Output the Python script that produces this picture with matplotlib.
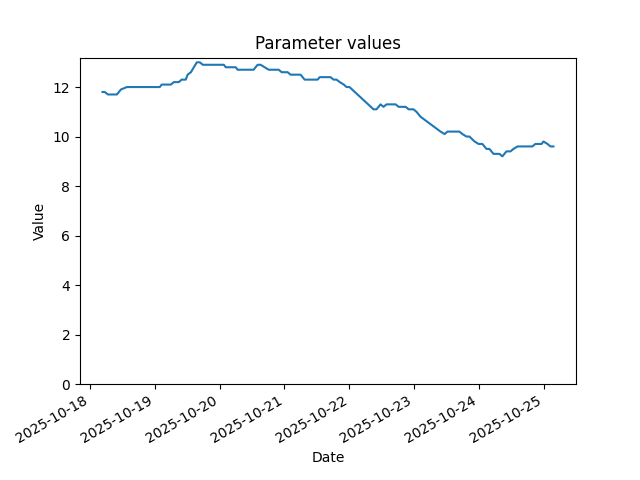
import matplotlib
matplotlib.use("Agg")
import matplotlib.pyplot as plt
import numpy as np

# hours since 2025-10-18 00:00
hours = [4.7, 5.5, 6.7, 10.0, 11.5, 13.7, 25.9, 26.6, 30.0, 31.1, 32.9, 34.0, 35.5,
         36.2, 37.4, 38.5, 39.6, 40.7, 41.8, 49.6, 50.3, 54.0, 54.7, 60.6, 62.1,
         63.2, 64.7, 66.2, 69.9, 71.0, 73.2, 74.3, 78.0, 79.5, 84.3, 85.1, 89.1,
         90.2, 91.3, 92.5, 94.0, 95.0, 96.1, 105.0, 106.1, 107.6, 108.7, 109.8,
         113.2, 114.3, 116.9, 118.0, 119.8, 120.9, 122.4, 129.8, 131.3, 132.4,
         136.8, 137.9, 139.4, 140.5, 142.4, 143.9, 145.3, 146.8, 147.9, 149.4,
         151.6, 152.7, 154.2, 155.7, 156.8, 158.3, 163.8, 164.9, 167.2, 167.9,
         169.4, 170.5, 171.6]
values = [11.8, 11.8, 11.7, 11.7, 11.9, 12.0, 12.0, 12.1, 12.1, 12.2, 12.2, 12.3, 12.3,
          12.5, 12.6, 12.8, 13.0, 13.0, 12.9, 12.9, 12.8, 12.8, 12.7, 12.7, 12.9,
          12.9, 12.8, 12.7, 12.7, 12.6, 12.6, 12.5, 12.5, 12.3, 12.3, 12.4, 12.4,
          12.3, 12.3, 12.2, 12.1, 12.0, 12.0, 11.1, 11.1, 11.3, 11.2, 11.3,
          11.3, 11.2, 11.2, 11.1, 11.1, 11.0, 10.8, 10.2, 10.1, 10.2,
          10.2, 10.1, 10.0, 10.0, 9.8, 9.7, 9.7, 9.5, 9.5, 9.3,
          9.3, 9.2, 9.4, 9.4, 9.5, 9.6, 9.6, 9.7, 9.7, 9.8,
          9.7, 9.6, 9.6]

start = np.datetime64("2025-10-18T00:00")
dates = start + (np.array(hours) * 60).astype(int).astype("timedelta64[m]")

fig = plt.figure(figsize=(6.4, 4.8), dpi=100)
ax = fig.add_subplot(111)
ax.plot(dates, values)
ax.set_ylim(bottom=0)
ax.set_title("Parameter values")
ax.set_xlabel("Date")
ax.set_ylabel("Value")
fig.autofmt_xdate()
fig.savefig("out.png")
